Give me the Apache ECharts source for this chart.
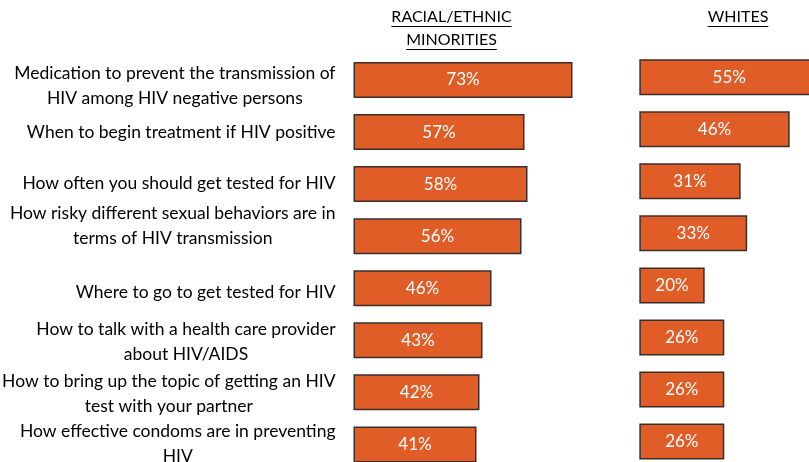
<!DOCTYPE html>
<html>
<head>
<meta charset="utf-8">
<script src="https://cdn.jsdelivr.net/npm/echarts@6/dist/echarts.min.js"></script>
<style>
html,body{margin:0;padding:0;background:#fff;}
#chart{width:809px;height:462px;}
</style>
</head>
<body>
<div id="chart"></div>
<script>
var topics = [
    'Medication to prevent the transmission of\nHIV among HIV negative persons',
    'When to begin treatment if HIV positive',
    'How often you should get tested for HIV',
    'How risky different sexual behaviors are in\nterms of HIV transmission',
    'Where to go to get tested for HIV',
    'How to talk with a health care provider\nabout HIV/AIDS',
    'How to bring up the topic of getting an HIV\ntest with your partner',
    'How effective condoms are in preventing\nHIV'
];
var minorities = [73, 57, 58, 56, 46, 43, 42, 41];
var whites = [55, 46, 31, 33, 20, 26, 26, 26];
var headerLeft = ['RACIAL/ETHNIC', 'MINORITIES'];
var headerRight = ['WHITES'];

// small vertical nudges of the row labels (px, + = down), as in the original slide
var labelNudge = [6, 0, -1, -10, 4, 2, 2, -1];

var FONT = 'Lato';
var ORANGE = '#e05d28';
var EDGE = '#3b2f2a';

var chart = echarts.init(document.getElementById('chart'));

var measure = document.createElement('canvas').getContext('2d');
function textWidth(t, size) {
    measure.font = size + 'px ' + FONT;
    return measure.measureText(t).width;
}

/* headers with underline */
var headerSize = 16;
var graphics = [];
function addHeader(lines, cx, y0) {
    lines.forEach(function (t, i) {
        var y = y0 + i * 23;
        var w = textWidth(t, headerSize);
        graphics.push({
            type: 'text', left: cx - w / 2, top: y - 9,
            style: { text: t, font: headerSize + 'px ' + FONT, fill: '#000' }
        });
        graphics.push({
            type: 'line',
            shape: { x1: cx - w / 2, y1: y + 8.5, x2: cx + w / 2, y2: y + 8.5 },
            style: { stroke: '#000', lineWidth: 1 }
        });
    });
}
addHeader(headerLeft, 451.5, 18);
addHeader(headerRight, 738, 18);

function catData() {
    return topics.map(function (t, i) {
        var n = labelNudge[i];
        return {
            value: t,
            textStyle: { padding: n >= 0 ? [2 * n, 0, 0, 0] : [0, 0, -2 * n, 0] }
        };
    });
}

function barSeries(data, idx) {
    return {
        type: 'bar',
        xAxisIndex: idx,
        yAxisIndex: idx,
        data: data,
        barWidth: 36,
        clip: false,
        itemStyle: { color: ORANGE, borderColor: EDGE, borderWidth: 1.5 },
        label: {
            show: true,
            position: 'inside',
            color: '#fff',
            fontFamily: FONT,
            fontSize: 17,
            formatter: '{c}%'
        },
        silent: true
    };
}

var option = {
    animation: false,
    backgroundColor: '#fff',
    graphic: graphics,
    // rows are placed on ticks (boundaryGap false) so the grid fits inside the canvas
    grid: [
        { left: 353.5, top: 80, width: 300, height: 364.4, outerBoundsMode: 'none' },
        { left: 639.3, top: 77.2, width: 170, height: 364.4, outerBoundsMode: 'none' }
    ],
    xAxis: [
        { type: 'value', gridIndex: 0, min: 0, max: 100, show: false },
        { type: 'value', gridIndex: 1, min: 0, max: 52, show: false }
    ],
    yAxis: [
        {
            type: 'category', gridIndex: 0, inverse: true, data: catData(),
            boundaryGap: false,
            axisLine: { show: false }, axisTick: { show: false }, splitLine: { show: false },
            axisLabel: {
                margin: 18,
                align: 'right',
                color: '#000',
                fontFamily: FONT,
                fontSize: 17.5,
                formatter: function (v) {
                    return v.split('\n').map(function (l) { return '{c|' + l + '}'; }).join('\n');
                },
                rich: { c: { align: 'center', lineHeight: 25, fontFamily: FONT, fontSize: 17.5, color: '#000' } }
            }
        },
        {
            type: 'category', gridIndex: 1, inverse: true, data: topics,
            boundaryGap: false,
            axisLine: { show: false }, axisTick: { show: false }, splitLine: { show: false },
            axisLabel: { show: false }
        }
    ],
    series: [barSeries(minorities, 0), barSeries(whites, 1)]
};
chart.setOption(option);
</script>
</body>
</html>
